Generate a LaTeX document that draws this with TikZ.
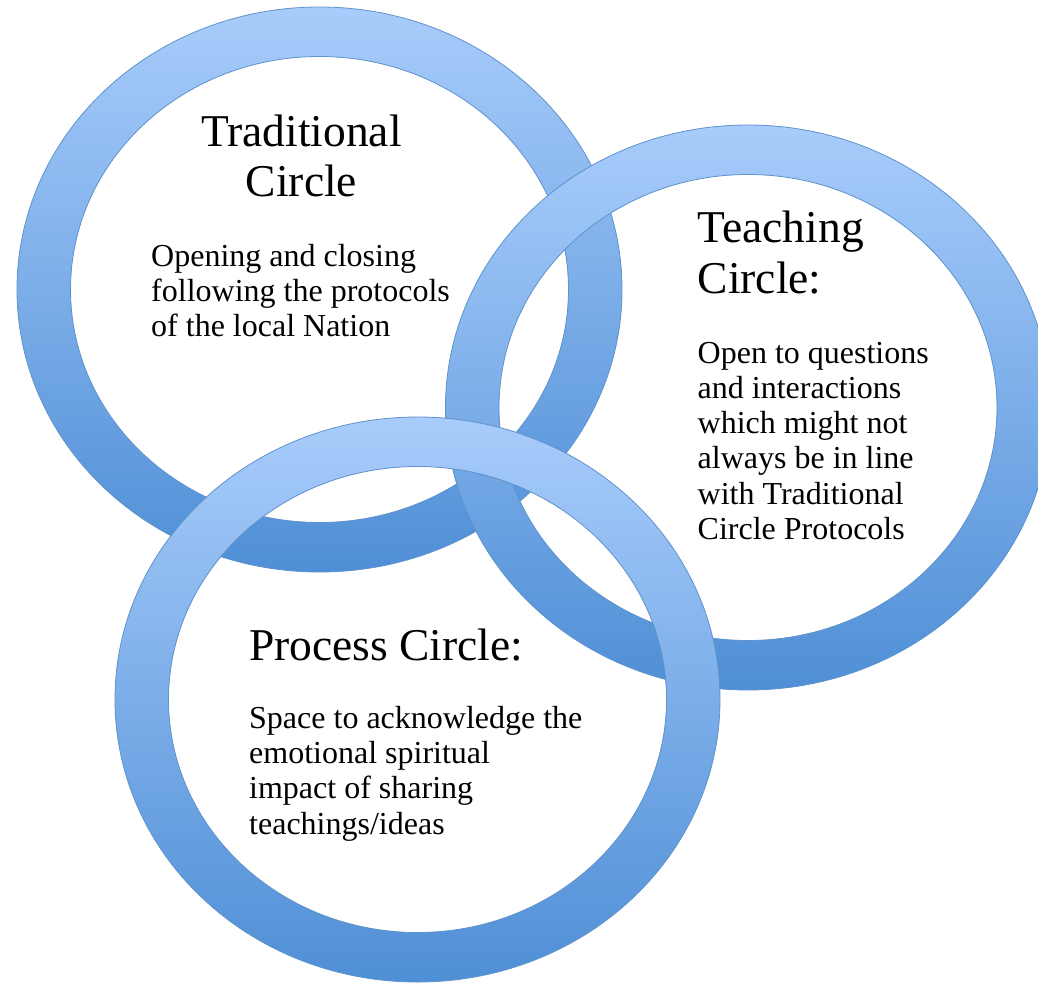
\documentclass[tikz,border=0pt]{standalone}
\usepackage{fontspec}
\setmainfont{Liberation Serif}
\definecolor{ringtop}{HTML}{A8CCFB}
\definecolor{ringbot}{HTML}{4F8FD6}
\definecolor{ringline}{HTML}{5E93CC}
\begin{document}
\begin{tikzpicture}[x=1pt,y=-1pt,
  ring/.style={even odd rule, top color=ringtop, bottom color=ringbot, draw=ringline, line width=0.8pt},
  shadowring/.style={even odd rule, fill=black, fill opacity=0.08},
  titletext/.style={font=\fontsize{45.5}{50.5}\selectfont, inner sep=0pt},
  bodytext/.style={font=\fontsize{32}{35.3}\selectfont, align=left, inner sep=0pt, anchor=base west}]
\useasboundingbox (0,0) rectangle (1038,984);
\clip (0,0) rectangle (1038,984);
\fill[white] (0,0) rectangle (1038,984);
\coordinate (tc) at (319.5,289.5);
\coordinate (ec) at (748,407.5);
\coordinate (pc) at (417.5,699.5);
% Traditional ring
\foreach \s in {2,4}{
  \path[shadowring, yshift=-\s pt] (tc) ellipse [x radius=302.5, y radius=282.5] (tc) ellipse [x radius=249, y radius=233];}
\path[ring] (tc) ellipse [x radius=302.5, y radius=282.5] (tc) ellipse [x radius=249, y radius=233];
% Teaching ring
\foreach \s in {2,4}{
  \path[shadowring, yshift=-\s pt] (ec) ellipse [x radius=302.5, y radius=282.5] (ec) ellipse [x radius=249, y radius=233];}
\path[ring] (ec) ellipse [x radius=302.5, y radius=282.5] (ec) ellipse [x radius=249, y radius=233];
% Process ring
\foreach \s in {2,4}{
  \path[shadowring, yshift=-\s pt] (pc) ellipse [x radius=302.5, y radius=282.5] (pc) ellipse [x radius=249, y radius=233];}
\path[ring] (pc) ellipse [x radius=302.5, y radius=282.5] (pc) ellipse [x radius=249, y radius=233];
% Texts (anchor base = baseline of the last line)
\node[titletext, align=center, anchor=base] (ttitle) at (301.5,197) {Traditional\\Circle};
\node[bodytext] (tbody) at (151,336.8) {Opening and closing\\following the protocols\\of the local Nation};
\node[titletext, align=left, anchor=base west] (etitle) at (697.5,293) {Teaching\\Circle:};
\node[bodytext] (ebody) at (697.5,539.5) {Open to questions\\and interactions\\which might not\\always be in line\\with Traditional\\Circle Protocols};
\node[titletext, anchor=base west] (ptitle) at (249,660.7) {Process Circle:};
\node[bodytext] (pbody) at (249,834) {Space to acknowledge the\\emotional spiritual\\impact of sharing\\teachings/ideas};
\end{tikzpicture}
\end{document}
